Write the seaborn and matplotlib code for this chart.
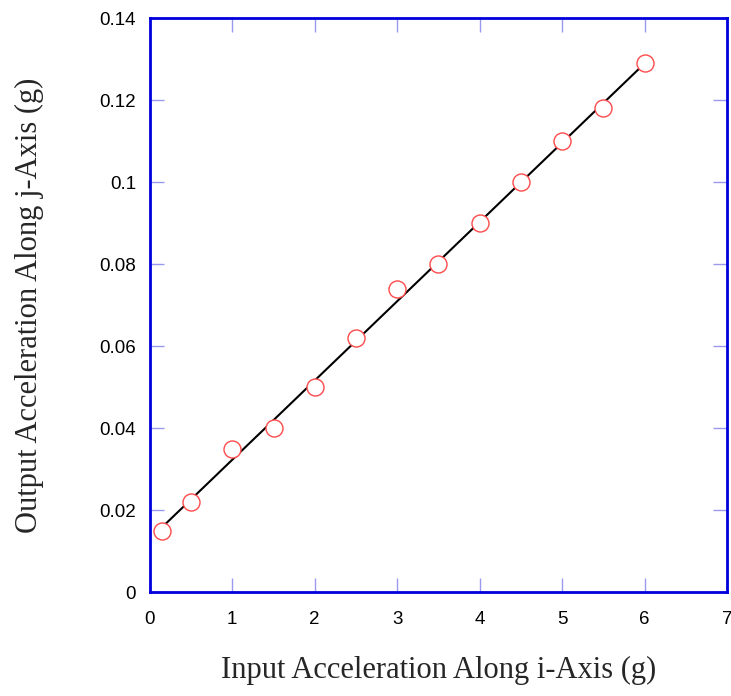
import numpy as np
import pandas as pd
import seaborn as sns
import matplotlib.pyplot as plt

input_g = [0.15, 0.5, 1.0, 1.5, 2.0, 2.5, 3.0, 3.5, 4.0, 4.5, 5.0, 5.5, 6.0]
output_g = [0.015, 0.022, 0.035, 0.040, 0.050, 0.062, 0.074, 0.080, 0.090, 0.100, 0.110, 0.118, 0.129]

df = pd.DataFrame({"input": input_g, "output": output_g})

sns.set_style("white")
plt.rcParams["font.family"] = ["Liberation Sans", "DejaVu Sans"]

fig = plt.figure(figsize=(7.31, 6.96), dpi=100)
ax = fig.add_axes([0.205, 0.1494, 0.7895, 0.8246])

# fitted line over the data range
sns.regplot(x="input", y="output", data=df, ci=None, scatter=False, ax=ax,
            line_kws={"color": "black", "lw": 1.5})
sns.scatterplot(x="input", y="output", data=df, ax=ax, marker="o", s=150,
                facecolor="white", edgecolor="#ff4a4a", linewidth=1.0, zorder=3)

ax.set_xlim(0, 7)
ax.set_ylim(0, 0.14)
ax.set_xticks(range(0, 8))
ax.set_yticks(np.arange(0, 0.141, 0.02))
ax.set_yticklabels(["0", "0.02", "0.04", "0.06", "0.08", "0.1", "0.12", "0.14"])

for sp in ax.spines.values():
    sp.set_color("#0000dd")
    sp.set_linewidth(2)

ax.tick_params(direction="in", length=10, width=1, color="#9999ee",
               labelsize=13.5, labelcolor="black",
               top=True, right=True, bottom=True, left=True)
ax.tick_params(axis="x", pad=14)
ax.tick_params(axis="y", pad=10)

ax.set_xlabel("Input Acceleration Along i-Axis (g)", family="Liberation Serif",
              fontsize=22, va="center")
ax.set_ylabel("Output Acceleration Along j-Axis (g)", family="Liberation Serif",
              fontsize=22, va="center")
ax.xaxis.set_label_coords(0.5, -0.136)
ax.yaxis.set_label_coords(-0.208, 0.5)

fig.savefig("out.png", dpi=100)
